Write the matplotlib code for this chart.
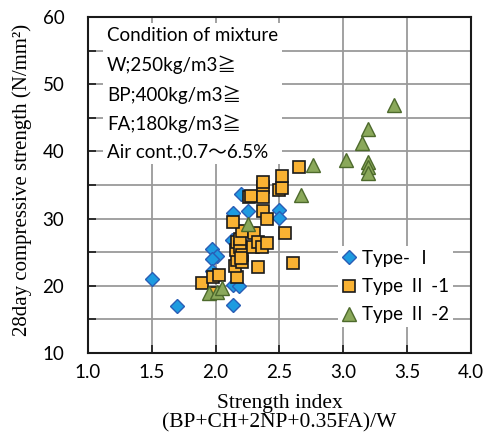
import matplotlib
matplotlib.use("Agg")
import numpy as np
from matplotlib import pyplot as plt

# Type-I (diamonds)
type1_x = [1.50, 1.70, 1.97, 2.01, 1.97, 1.97, 2.13, 2.21, 2.14, 2.18, 2.14, 2.14, 2.20, 2.25, 2.50, 2.50]
type1_y = [21.0, 17.0, 25.5, 24.4, 24.0, 22.2, 26.8, 26.4, 20.1, 20.0, 17.1, 30.8, 33.7, 31.2, 31.3, 30.1]

# Type II-1 (squares)
type21_x = [1.89, 1.98, 2.03, 1.99, 2.17, 2.15, 2.17, 2.21, 2.16, 2.17, 2.19, 2.21, 2.19, 2.20,
            2.21, 2.14, 2.30, 2.29, 2.33, 2.36, 2.40, 2.33, 2.26, 2.28, 2.37, 2.37, 2.37, 2.37,
            2.40, 2.50, 2.52, 2.52, 2.65, 2.54, 2.61]
type21_y = [20.4, 21.3, 21.6, 19.0, 21.3, 23.0, 23.8, 23.5, 25.3, 26.5, 25.8, 24.6, 27.0, 24.2,
            28.2, 29.5, 27.9, 25.8, 26.5, 25.8, 26.4, 22.8, 33.2, 33.4, 34.7, 33.2, 35.4, 31.1,
            29.9, 34.3, 34.6, 36.3, 37.7, 27.9, 23.4]

# Type II-2 (triangles)
type22_x = [1.95, 2.01, 2.05, 2.25, 2.67, 2.76, 3.02, 3.15, 3.19, 3.19, 3.19, 3.19, 3.40]
type22_y = [18.9, 19.1, 19.7, 29.2, 33.5, 38.0, 38.7, 41.3, 43.3, 38.5, 37.7, 36.8, 46.9]

xticks = [1.0, 1.5, 2.0, 2.5, 3.0, 3.5, 4.0]
yticks = [10, 20, 30, 40, 50, 60]

sans = ["Lato", "Noto Sans CJK JP", "DejaVu Sans"]
serif = ["Liberation Serif", "DejaVu Serif"]

fig = plt.figure(figsize=(4.86, 4.38), dpi=100)
ax = fig.add_axes([0.181, 0.194, 0.788, 0.767])

ax.plot(type1_x, type1_y, "D", ms=7.4, mfc="#1e9be0", mec="#2a5db5", mew=1.0,
        label="Type- Ⅰ", zorder=3)
ax.plot(type21_x, type21_y, "s", ms=8.2, mfc="#f9b233", mec="#1a1a1a", mew=1.2,
        label="Type Ⅱ -1", zorder=4)
ax.plot(type22_x, type22_y, "^", ms=9.5, mfc="#8aa85a", mec="#4d6a2c", mew=1.0,
        label="Type Ⅱ -2", zorder=5)

ax.set_xlim(1.0, 4.0)
ax.set_ylim(10, 60)
ax.set_xticks(xticks)
ax.set_yticks(yticks)
ax.set_yticks(np.arange(15, 60, 10), minor=True)
ax.set_xticklabels([f"{t:.1f}" for t in xticks], family=sans, fontsize=13.5)
ax.set_yticklabels([str(t) for t in yticks], family=sans, fontsize=13.5)
ax.grid(True, which="both", color="#9a9a9a", lw=1.3, zorder=0)
ax.set_axisbelow(True)
ax.tick_params(which="both", direction="in", length=5.5, width=1.2, colors="#1a1a1a",
               labelcolor="black", top=False, right=False)
ax.tick_params(axis="x", pad=8)
ax.tick_params(axis="y", pad=17)
for s in ax.spines.values():
    s.set_linewidth(1.5)
    s.set_color("#1a1a1a")

ax.set_xlabel("Strength index\n(BP+CH+2NP+0.35FA)/W", family=serif, fontsize=15.5,
              linespacing=1.02, labelpad=9)
ax.set_ylabel("28day compressive strength (N/mm²)", family=serif, fontsize=15)
ax.yaxis.set_label_coords(-0.145, 0.515)

txt = ("Condition of mixture\nW;250kg/m3≧\nBP;400kg/m3≧\nFA;180kg/m3≧\nAir cont.;0.7～6.5%")
ax.text(0.05, 0.97, txt, transform=ax.transAxes, family=sans, fontsize=13.5,
        va="top", ha="left", linespacing=1.72, zorder=6,
        bbox=dict(facecolor="white", edgecolor="none", pad=3))

leg = ax.legend(loc="upper left", bbox_to_anchor=(0.652, 0.318), frameon=True,
                prop={"family": sans, "size": 13.5}, handlelength=0.8,
                handletextpad=0.3, labelspacing=0.6, borderpad=0.2, borderaxespad=0)
leg.get_frame().set_facecolor("white")
leg.get_frame().set_edgecolor("none")
leg.get_frame().set_alpha(1)
leg.set_zorder(7)

fig.savefig("out.png", dpi=100)
